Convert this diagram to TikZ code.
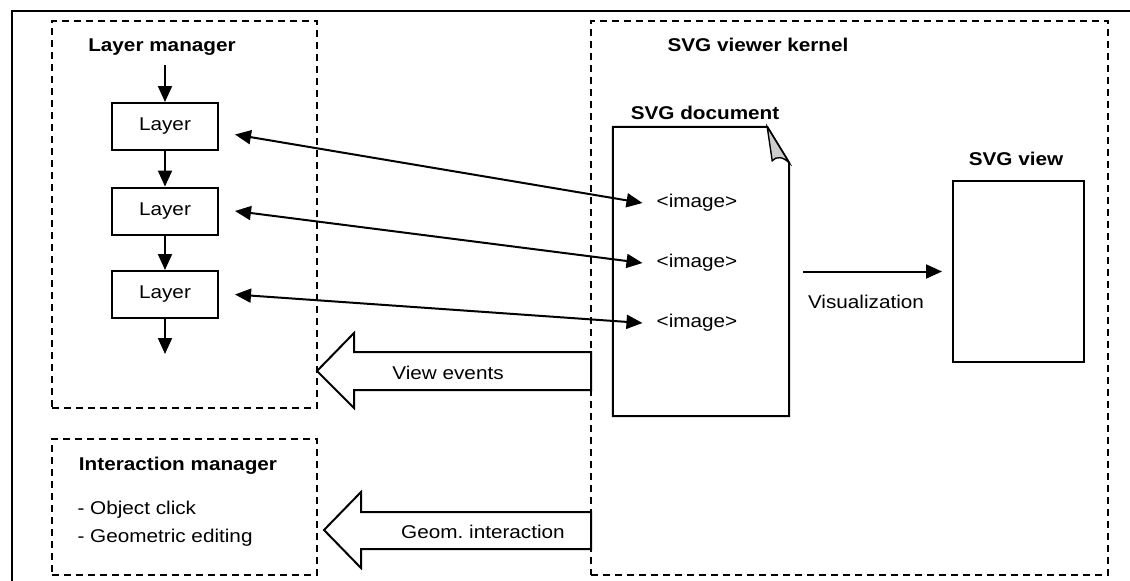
\documentclass[tikz,border=0pt]{standalone}
\usepackage{fontspec}
\setmainfont{Liberation Sans}[FakeStretch=1.12]
\usetikzlibrary{arrows.meta, calc}

\begin{document}
\begin{tikzpicture}[x=1pt, y=-1pt, font=\fontsize{18.5}{22}\selectfont]

% Picture size
\useasboundingbox (0,0) rectangle (1130,581);

% Line and arrow styles
\tikzset{ln/.style={line width = 2pt}}
\tikzset{dbox/.style={draw, ln, dash pattern = on 7pt off 5pt, inner sep = 0pt}}
\tikzset{arr/.style={ln, -{Triangle[length = 16pt, width = 14pt]}}}
\tikzset{darr/.style={ln, {Triangle[length = 16pt, width = 14pt]}-{Triangle[length = 16pt, width = 14pt]}}}
\tikzset{barr/.style={ln, fill = white, line join = miter}}

% Node styles
\tikzset{lyr/.style={draw, ln, minimum width = 106pt, minimum height = 47pt, inner sep = 0pt}}
\tikzset{ttl/.style={font = \fontsize{18.5}{22}\selectfont\bfseries, anchor = base}}
\tikzset{txt/.style={anchor = base}}
\tikzset{img/.style={inner xsep = 14pt}}

% Outer frame
\draw[line width = 2.6pt] (12,600) -- (12,11) -- (1145,11);

% Dashed boxes
\node (lman) [dbox, minimum width = 265pt, minimum height = 387pt] at (184.5,214.5) {};
\node (iman) [dbox, minimum width = 265pt, minimum height = 136pt] at (184.5,507) {};
\node (kern) [dbox, minimum width = 517pt, minimum height = 554pt] at (849.5,298) {};

% Layer manager
\node (lmt) [ttl] at (162,51) {Layer manager};

\node (lyr1) [lyr] at (165,126.5) {Layer};
\node (lyr2) [lyr] at (165,211) {Layer};
\node (lyr3) [lyr] at (165,294.5) {Layer};

\coordinate (lin) at (165,65);
\coordinate (lout) at (165,354);

\draw[arr] (lin) -- (lyr1);
\draw[arr] (lyr1) -- (lyr2);
\draw[arr] (lyr2) -- (lyr3);
\draw[arr] (lyr3) -- (lout);

% Interaction manager
\node (imt) [ttl] at (178,470) {Interaction manager};
\node (im1) [txt, anchor = base west] at (74,514) {- Object click};
\node (im2) [txt, anchor = base west] at (74,542) {- Geometric editing};

% SVG viewer kernel
\node (kt) [ttl] at (758,51) {SVG viewer kernel};

% SVG document page
\node (doc) [minimum width = 176pt, minimum height = 289pt, inner sep = 0pt] at (701,271.5) {};
\draw[ln, fill = white, line join = miter] (doc.north west) -- ($ (doc.north east) + (-22,0) $) -- ($ (doc.north east) + (0,36) $) -- (doc.south east) -- (doc.south west) -- cycle;
\draw[line width = 1.4pt, fill = black!20] ($ (doc.north east) + (-22,0) $) -- ($ (doc.north east) + (-17,34) $) .. controls ($ (doc.north east) + (-13,29) $) and ($ (doc.north east) + (-6,30) $) .. ($ (doc.north east) + (0,36) $) -- cycle;
\node (dt) [ttl] at (705,119) {SVG document};

\node (img1) [img] at (697,203) {<image>};
\node (img2) [img] at (697,263) {<image>};
\node (img3) [img] at (697,323) {<image>};

% SVG view
\node (view) [draw, ln, minimum width = 131pt, minimum height = 181pt] at (1018.5,271.5) {};
\node (vt) [ttl] at (1016,165) {SVG view};

\coordinate (vis) at ($ (doc.east) + (14,0) $);
\draw[arr, shorten >= 10pt] (vis) -- (view.west);
\node (vl) [txt] at (866,308) {Visualization};

% Layer links
\draw[darr] ([xshift = 16pt, yshift = -8pt]lyr1.east) -- (img1.west);
\draw[darr] ([xshift = 16pt]lyr2.east) -- (img2.west);
\draw[darr] ([xshift = 16pt]lyr3.east) -- (img3.west);

% Block arrows
\draw[barr] (591,352) -- (354,352) -- (354,333) -- (317,371) -- (354,408) -- (354,390) -- (591,390) -- cycle;
\node (ve) [txt] at (448,379) {View events};

\draw[barr] (591,512) -- (361,512) -- (361,492) -- (324,530) -- (361,568) -- (361,549) -- (591,549) -- cycle;
\node (gi) [txt] at (483,538) {Geom.\ interaction};

\end{tikzpicture}
\end{document}
